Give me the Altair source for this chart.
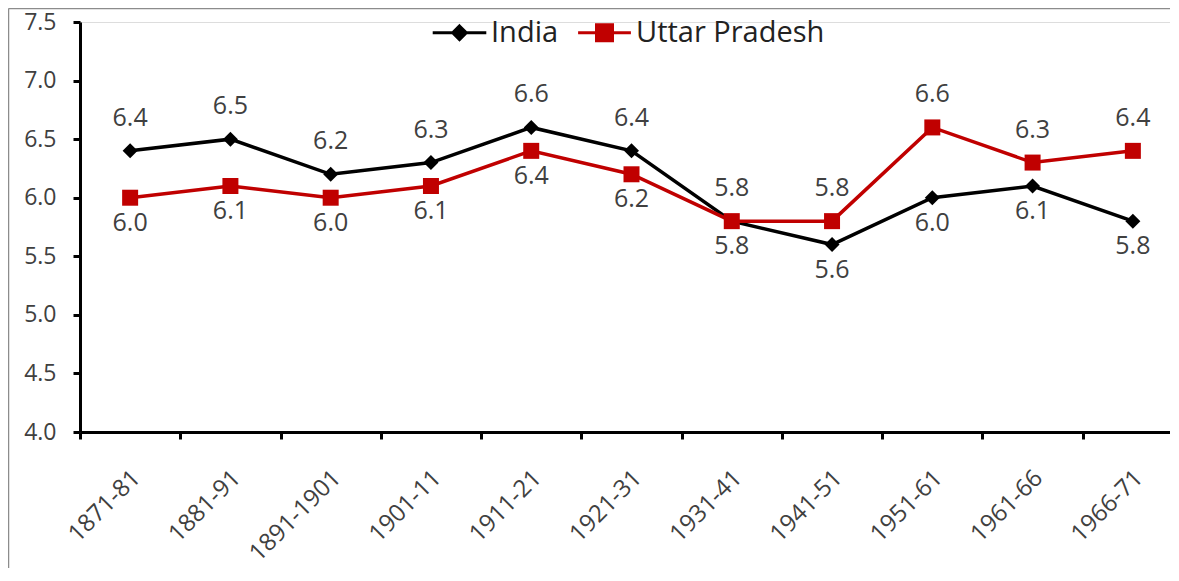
import altair as alt
import pandas as pd

# ---- data ----
periods = ["1871-81", "1881-91", "1891-1901", "1901-11", "1911-21", "1921-31",
           "1931-41", "1941-51", "1951-61", "1961-66", "1966-71"]
india = [6.4, 6.5, 6.2, 6.3, 6.6, 6.4, 5.8, 5.6, 6.0, 6.1, 5.8]
uttar_pradesh = [6.0, 6.1, 6.0, 6.1, 6.4, 6.2, 5.8, 5.8, 6.6, 6.3, 6.4]
series_names = ["India", "Uttar Pradesh"]
y_ticks = [4.0, 4.5, 5.0, 5.5, 6.0, 6.5, 7.0, 7.5]

# ---- styling ----
FONT = "Open Sans"
BLACK = "#000000"
RED = "#C00000"
TXT = "#404040"

rows = []
for p, a, b in zip(periods, india, uttar_pradesh):
    rows.append({"period": p, "series": "India", "value": a, "other": b})
    rows.append({"period": p, "series": "Uttar Pradesh", "value": b, "other": a})
df = pd.DataFrame(rows)
df["above"] = ((df["series"] == "India") & (df["value"] >= df["other"])) | (
    (df["series"] == "Uttar Pradesh") & (df["value"] > df["other"]))

X = alt.X(
    "period:N", sort=periods, bandPosition=0.5,
    scale=alt.Scale(type="band", domain=periods, range=[0, 1103],
                    paddingInner=0, paddingOuter=0),
    axis=alt.Axis(title=None, tickBand="extent", labelAngle=-45, labelAlign="right",
                  labelBaseline="middle", labelOffset=6, labelPadding=35,
                  tickSize=7, tickWidth=3, tickColor=BLACK, domainColor=BLACK,
                  domainWidth=3, labelFont=FONT, labelFontSize=24, labelColor=TXT,
                  labelOverlap=False, labelLimit=300, grid=False),
)
Y = alt.Y(
    "value:Q",
    scale=alt.Scale(domain=[4.0, 7.5], nice=False, zero=False),
    axis=alt.Axis(title=None, values=y_ticks, format=".1f", tickSize=7, tickWidth=3,
                  tickColor=BLACK, domainColor=BLACK, domainWidth=3, labelFont=FONT,
                  labelFontSize=23, labelColor=TXT, labelPadding=17, grid=False),
)

base = alt.Chart(df)
frame_src = pd.DataFrame({"f": [0]})

frame_top = alt.Chart(frame_src).mark_rule(color="#8c8c8c", strokeWidth=1.5).encode(
    x=alt.value(-71.5), x2=alt.value(1300), y=alt.value(-13.5))
frame_left = alt.Chart(frame_src).mark_rule(color="#8c8c8c", strokeWidth=1.5).encode(
    x=alt.value(-71.5), y=alt.value(-13.5), y2=alt.value(800))

india_line = base.transform_filter(alt.datum.series == "India").mark_line(
    color=BLACK, strokeWidth=3.5).encode(x=X, y=Y)
india_pts = base.transform_filter(alt.datum.series == "India").mark_point(
    shape="diamond", filled=True, size=225, color=BLACK, opacity=1).encode(x=X, y=Y)
up_line = base.transform_filter(alt.datum.series == "Uttar Pradesh").mark_line(
    color=RED, strokeWidth=3.5).encode(x=X, y=Y)
up_pts = base.transform_filter(alt.datum.series == "Uttar Pradesh").mark_point(
    shape="square", filled=True, size=256, color=RED, opacity=1).encode(x=X, y=Y)

labels_above = base.transform_filter("datum.above").mark_text(
    dy=-33, font=FONT, fontSize=25, color=TXT, baseline="middle").encode(
    x=X, y=Y, text=alt.Text("value:Q", format=".1f"))
labels_below = base.transform_filter("!datum.above").mark_text(
    dy=25, font=FONT, fontSize=25, color=TXT, baseline="middle").encode(
    x=X, y=Y, text=alt.Text("value:Q", format=".1f"))

india_symbol = "M-3.35,0H3.35M0,-0.85L0.85,0L0,0.85L-0.85,0Z"
up_symbol = "M-3.3,0H3.3M-1,-1H1V1H-1Z"


def make_legend():
    return alt.Legend(title=None, orient="none", legendX=365, legendY=-4,
                      direction="horizontal", symbolSize=256, symbolStrokeWidth=3,
                      symbolOpacity=1, labelFont=FONT, labelFontSize=29,
                      labelColor="#222222", labelOffset=17, labelLimit=400,
                      columnPadding=13, padding=0)


legend_layer = base.mark_point(filled=True, opacity=0).encode(
    x=X, y=Y,
    fill=alt.Fill("series:N", scale=alt.Scale(domain=series_names, range=[BLACK, RED]),
                  legend=make_legend()),
    stroke=alt.Stroke("series:N", scale=alt.Scale(domain=series_names, range=[BLACK, RED]),
                      legend=make_legend()),
    shape=alt.Shape("series:N", scale=alt.Scale(domain=series_names,
                                                range=[india_symbol, up_symbol]),
                    legend=make_legend()),
)

chart = alt.layer(
    frame_top, frame_left, legend_layer, india_line, india_pts, up_line, up_pts,
    labels_above, labels_below
).properties(
    width=1090, height=410,
    autosize=alt.AutoSizeParams(type="none"),
    padding={"left": 72, "top": 14, "right": 0, "bottom": 136},
).configure_view(stroke=None).configure(background="white")

chart.save("out.html", embed_options={"renderer": "svg", "actions": False})
